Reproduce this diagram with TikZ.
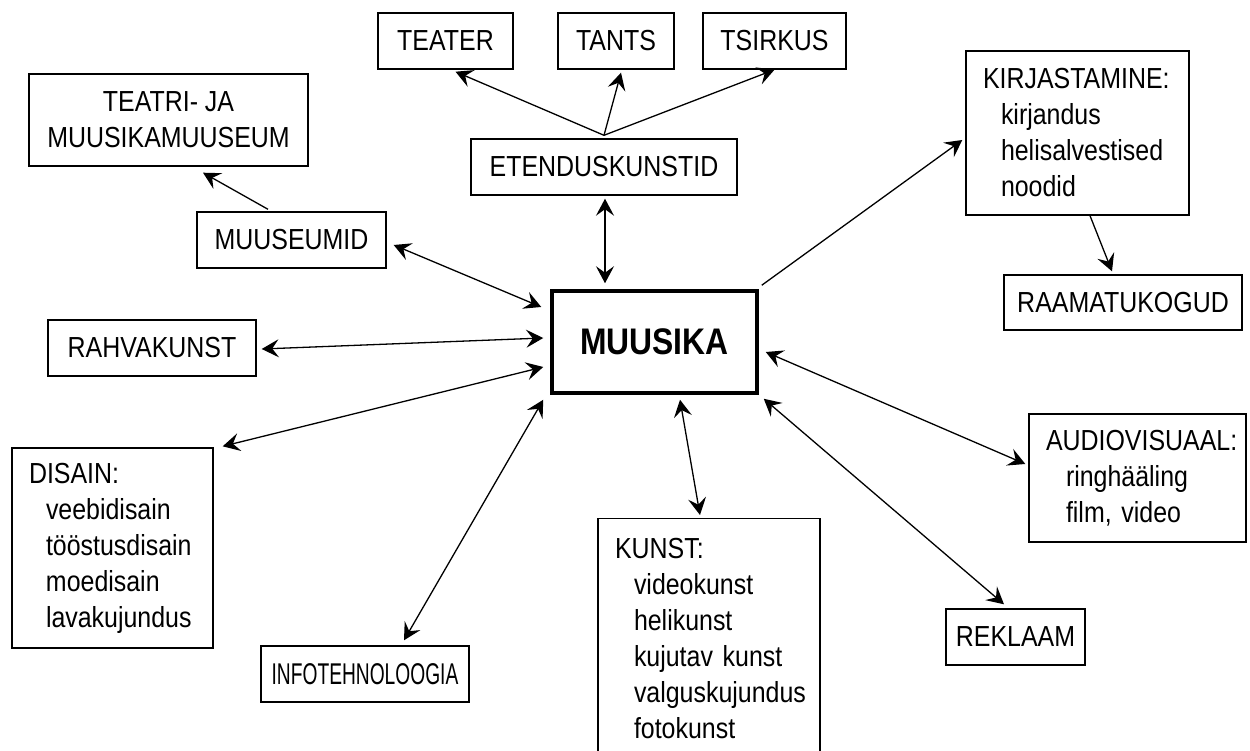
\documentclass[tikz,border=0pt]{standalone}
\usepackage{fontspec}
\setmainfont{Liberation Sans}[FakeStretch=0.86]
\newfontfamily\narrowsans{Liberation Sans}[FakeStretch=0.64]
\usepackage{tikz}
\usetikzlibrary{arrows.meta}
\hyphenpenalty=10000
\exhyphenpenalty=10000

\tikzset{
  box/.style={draw, line width=1.4pt, inner sep=0pt, minimum height=56pt, font=\fontsize{29}{36}\selectfont},
  listbox/.style={box, align=left, inner xsep=17pt},
  link/.style={line width=1.3pt, -{Stealth[length=17pt,width=18pt,inset=6.5pt]}},
  both/.style={line width=1.3pt, {Stealth[length=17pt,width=18pt,inset=6.5pt]}-{Stealth[length=17pt,width=18pt,inset=6.5pt]}}
}

\begin{document}
\begin{tikzpicture}[x=1pt, y=-1pt]
	\useasboundingbox (0,0) rectangle (1250,751);
	\clip (0,0) rectangle (1250,751);
	\node[box, line width=3.5pt, minimum width=205pt, minimum height=102pt, font=\fontsize{37}{40}\selectfont\bfseries] (muusika) at (654.5,342) {MUUSIKA};
	% etenduskunstid
	\node[box, minimum width=135pt] (teater) at (445.5,41) {TEATER};
	\node[box, minimum width=116pt] (tants) at (616,41) {TANTS};
	\node[box, minimum width=143pt] (tsirkus) at (774.5,41) {TSIRKUS};
	\node[box, minimum width=266pt] (etendus) at (604,167) {ETENDUSKUNSTID};
	% muuseumid
	\node[box, align=center, minimum width=279pt, minimum height=92pt] (teatrimuuseum) at (168.5,120) {TEATRI- JA\\MUUSIKAMUUSEUM};
	\node[box, minimum width=189pt] (muuseumid) at (291.5,240) {MUUSEUMID};
	\node[box, minimum width=208pt] (rahvakunst) at (152,348) {RAHVAKUNST};
	\node[listbox, text width=167pt, minimum height=200pt] (disain) at (112.5,548) {DISAIN:\\\hspace*{17pt}veebidisain\\\hspace*{17pt}tööstusdisain\\\hspace*{17pt}moedisain\\\hspace*{17pt}lavakujundus};
	\node[box, minimum width=208pt, font=\fontsize{30}{36}\narrowsans] (infotehn) at (365,674) {INFOTEHNOLOOGIA};
	\node[listbox, anchor=north, text width=188pt, minimum height=240pt] (kunst) at (709,518) {KUNST:\\\hspace*{19pt}videokunst\\\hspace*{19pt}helikunst\\\hspace*{19pt}kujutav kunst\\\hspace*{19pt}valguskujundus\\\hspace*{19pt}fotokunst};
	\node[box, minimum width=139pt] (reklaam) at (1015.5,637) {REKLAAM};
	\node[listbox, text width=183pt, minimum height=128pt] (audiovisuaal) at (1137.5,478) {AUDIOVISUAAL:\\\hspace*{20pt}ringhääling\\\hspace*{20pt}film, video};
	\node[listbox, text width=189pt, minimum height=164pt] (kirjastamine) at (1077.5,133) {KIRJASTAMINE:\\\hspace*{18pt}kirjandus\\\hspace*{18pt}helisalvestised\\\hspace*{18pt}noodid};
	\node[box, minimum width=238pt, minimum height=55pt] (raamatukogud) at (1123,302.5) {RAAMATUKOGUD};

	% connectors
	\draw[link] ([yshift=3pt]etendus.north) -- ([xshift=10pt,yshift=-2pt]teater.south);
	\draw[link] ([yshift=3pt]etendus.north) -- ([xshift=5pt,yshift=-3pt]tants.south);
	\draw[link] ([yshift=3pt]etendus.north) -- ([yshift=0pt]tsirkus.south);
	\draw[both] ([xshift=1pt,yshift=-3pt]etendus.south) -- ([xshift=-49.5pt,yshift=6pt]muusika.north);
	\draw[link] ([xshift=-23.5pt,yshift=2pt]muuseumid.north) -- ([xshift=34.5pt,yshift=-6pt]teatrimuuseum.south);
	\draw[both] ([xshift=7pt,yshift=-5pt]muuseumid.east) -- ([xshift=-9pt,yshift=35pt]muusika.west);
	\draw[both] ([xshift=5pt,yshift=-1pt]rahvakunst.east) -- ([xshift=-7pt,yshift=4pt]muusika.west);
	\draw[both] ([xshift=9pt,yshift=1pt]disain.north east) -- ([xshift=-7pt,yshift=-25pt]muusika.west);
	\draw[both] ([xshift=39pt,yshift=5pt]infotehn.north) -- ([xshift=-7pt,yshift=-5pt]muusika.south west);
	\draw[both] ([xshift=25.5pt,yshift=-5pt]muusika.south) -- ([xshift=-9pt,yshift=3pt]kunst.north);
	\draw[both] ([xshift=5pt,yshift=-4pt]muusika.south east) -- ([xshift=-11.5pt,yshift=4pt]reklaam.north);
	\draw[both] ([xshift=7pt,yshift=-10pt]muusika.east) -- ([xshift=-3pt,yshift=14pt]audiovisuaal.west);
	\draw[link] ([xshift=3pt,yshift=4pt]muusika.north east) -- ([xshift=-3pt,yshift=-7pt]kirjastamine.west);
	\draw[link] ([xshift=12.5pt]kirjastamine.south) -- ([xshift=-11pt,yshift=3pt]raamatukogud.north);
\end{tikzpicture}
\end{document}
